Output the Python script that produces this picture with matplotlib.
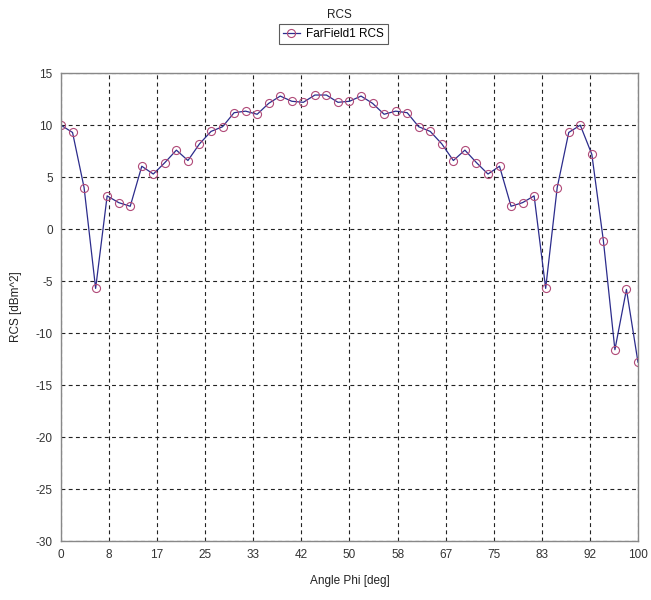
import numpy as np
import matplotlib
matplotlib.use("Agg")
import matplotlib.pyplot as plt

# RCS vs phi (2 deg steps)
phi = np.arange(0, 101, 2)
rcs = [10.0, 9.3, 4.0, -5.7, 3.2, 2.55, 2.2, 6.05, 5.3, 6.4,
       7.6, 6.6, 8.2, 9.4, 9.85, 11.2, 11.35, 11.05, 12.1, 12.8,
       12.3, 12.2, 12.9, 12.9, 12.2, 12.3, 12.8, 12.1, 11.05, 11.35,
       11.2, 9.85, 9.4, 8.2, 6.6, 7.6, 6.4, 5.3, 6.05, 2.2,
       2.55, 3.2, -5.7, 4.0, 9.3, 10.0, 7.2, -1.1, -11.6, -5.8,
       -12.8]

xticks = np.linspace(0, 100, 13)
xlabels = ["0", "8", "17", "25", "33", "42", "50", "58", "67", "75", "83", "92", "100"]
yticks = np.arange(-30, 16, 5)

plt.rcParams['font.family'] = ['Liberation Sans', 'DejaVu Sans']
plt.rcParams['axes.unicode_minus'] = False

fig = plt.figure(figsize=(6.51, 6.0), dpi=100)
ax = fig.add_axes([0.0937, 0.0983, 0.8863, 0.7797])

ax.plot(phi, rcs, color="#2c2c8c", lw=0.9, marker="o", ms=5.8,
        mfc="none", mec="#b04a78", mew=0.8, label="FarField1 RCS")

ax.set_xlim(0, 100)
ax.set_ylim(-30, 15)
ax.set_xticks(xticks)
ax.set_xticklabels(xlabels)
ax.set_yticks(yticks)
ax.tick_params(length=0, labelsize=8.5, pad=6, colors="#333333")
ax.grid(True, color="#222222", ls=(0, (3.5, 3)), lw=0.8)

for s in ax.spines.values():
    s.set_color("#888888")
    s.set_linewidth(1.0)

ax.set_xlabel("Angle Phi [deg]", fontsize=8.5, labelpad=10, color="#222222")
ax.set_ylabel("RCS [dBm^2]", fontsize=8.5, labelpad=10, color="#222222")

fig.text(0.522, 0.975, "RCS", ha="center", va="center", fontsize=8.5, color="#222222")
leg = fig.legend(loc="center", bbox_to_anchor=(0.512, 0.943), fontsize=8.5,
                 frameon=True, fancybox=False, handlelength=1.4,
                 borderpad=0.35, handletextpad=0.5)
leg.get_frame().set_edgecolor("#333333")
leg.get_frame().set_linewidth(0.8)

fig.savefig("out.png", dpi=100)
